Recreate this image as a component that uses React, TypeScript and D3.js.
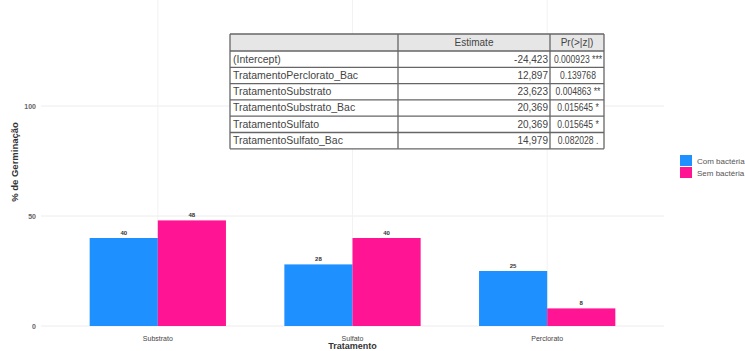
import React from "react";
import * as d3 from "d3";

// Germination (%) by treatment and bacteria presence
const categories = ["Substrato", "Sulfato", "Perclorato"];
const series = ["Com bactéria", "Sem bactéria"];
const comBacteria = [40, 28, 25];
const semBacteria = [48, 40, 8];
const yTicks = [0, 50, 100];
const colors = ["#1E90FF", "#FF1493"];

// GLM coefficient table
const termNames = [
  "(Intercept)",
  "TratamentoPerclorato_Bac",
  "TratamentoSubstrato",
  "TratamentoSubstrato_Bac",
  "TratamentoSulfato",
  "TratamentoSulfato_Bac",
];
const estimates = ["-24,423", "12,897", "23,623", "20,369", "20,369", "14,979"];
const pValues = [
  "0.000923 ***",
  "0.139768",
  "0.004863 **",
  "0.015645 *",
  "0.015645 *",
  "0.082028 .",
];

const W = 745;
const H = 351;
const panel = { left: 41, right: 664, top: 0, bottom: 326 };

export default function App() {
  const x = d3
    .scalePoint<string>()
    .domain(categories)
    .range([panel.left, panel.right])
    .padding(0.6);
  const step = x.step();
  const inner = d3
    .scaleBand<string>()
    .domain(series)
    .range([-0.35 * step, 0.35 * step])
    .padding(0);
  const y = d3.scaleLinear().domain([0, 100]).range([326, 106]);

  const values = [comBacteria, semBacteria];

  // table geometry
  const tX = [230, 398, 550, 604];
  const tTop = 34;
  const headerH = 17;
  const rowH = 16.3;
  const tBottom = tTop + headerH + rowH * termNames.length;
  const pCenter = (tX[2] + tX[3]) / 2 + 1;

  return (
    <svg
      width={W}
      height={H}
      style={{ position: "absolute", left: 0, top: 0, background: "#fff" }}
      fontFamily="'Liberation Sans', Arial, sans-serif"
    >
      {/* grid */}
      <g>
        {yTicks.map((t) => (
          <line
            key={t}
            x1={panel.left}
            x2={panel.right}
            y1={y(t)}
            y2={y(t)}
            stroke="#ececec"
            strokeWidth={1}
          />
        ))}
        {categories.map((c) => (
          <line
            key={c}
            x1={x(c)!}
            x2={x(c)!}
            y1={panel.top}
            y2={panel.bottom}
            stroke="#f2f2f2"
            strokeWidth={1}
          />
        ))}
      </g>

      {/* bars */}
      {series.map((s, si) => (
        <g key={s}>
          {categories.map((c, ci) => {
            const v = values[si][ci];
            const bx = x(c)! + inner(s)!;
            return (
              <g key={c}>
                <rect
                  x={bx}
                  y={y(v)}
                  width={inner.bandwidth()}
                  height={y(0) - y(v)}
                  fill={colors[si]}
                />
                <text
                  x={bx + inner.bandwidth() / 2}
                  y={y(v) - 3}
                  textAnchor="middle"
                  fontSize={6}
                  fontWeight="bold"
                  fill="#333"
                >
                  {v}
                </text>
              </g>
            );
          })}
        </g>
      ))}

      {/* y axis labels */}
      {yTicks.map((t) => (
        <text
          key={t}
          x={36}
          y={y(t) + 2.5}
          textAnchor="end"
          fontSize={7}
          fontWeight="bold"
          fill="#666"
        >
          {t}
        </text>
      ))}
      <text
        transform={`translate(18,162) rotate(-90)`}
        textAnchor="middle"
        fontSize={9.5}
        fontWeight="bold"
        fill="#333"
      >
        % de Germinação
      </text>

      {/* x axis labels */}
      {categories.map((c) => (
        <text
          key={c}
          x={x(c)!}
          y={341}
          textAnchor="middle"
          fontSize={7}
          fill="#444"
        >
          {c}
        </text>
      ))}
      <text
        x={x("Sulfato")!}
        y={349}
        textAnchor="middle"
        fontSize={9}
        fontWeight="bold"
        fill="#333"
      >
        Tratamento
      </text>

      {/* legend */}
      {series.map((s, i) => (
        <g key={s} transform={`translate(680,${155 + i * 12})`}>
          <rect width={12} height={11} fill={colors[i]} />
          <text x={17} y={8.5} fontSize={8} fill="#555">
            {s}
          </text>
        </g>
      ))}

      {/* coefficient table */}
      <g>
        <rect
          x={tX[0]}
          y={tTop}
          width={tX[3] - tX[0]}
          height={headerH}
          fill="#e6e6e6"
        />
        <rect
          x={tX[0]}
          y={tTop + headerH}
          width={tX[3] - tX[0]}
          height={tBottom - tTop - headerH}
          fill="#fff"
        />
        <text
          x={(tX[1] + tX[2]) / 2}
          y={tTop + 12}
          textAnchor="middle"
          fontSize={10}
          fill="#444"
        >
          Estimate
        </text>
        <text
          x={(tX[2] + tX[3]) / 2}
          y={tTop + 12}
          textAnchor="middle"
          fontSize={10}
          fill="#444"
        >
          {"Pr(>|z|)"}
        </text>
        {termNames.map((n, i) => {
          const ry = tTop + headerH + i * rowH;
          return (
            <g key={n}>
              <text x={tX[0] + 3} y={ry + 11.5} fontSize={10.5} fill="#444">
                {n}
              </text>
              <text
                x={tX[2] - 2}
                y={ry + 11.5}
                textAnchor="end"
                fontSize={10}
                fill="#444"
              >
                {estimates[i]}
              </text>
              <text
                transform={`translate(${pCenter},${ry + 11.5}) scale(0.86,1)`}
                textAnchor="middle"
                fontSize={10}
                fill="#444"
              >
                {pValues[i]}
              </text>
            </g>
          );
        })}
        {/* rules */}
        {d3.range(termNames.length + 2).map((i) => {
          const ly = i === 0 ? tTop : tTop + headerH + (i - 1) * rowH;
          return (
            <line
              key={"h" + i}
              x1={tX[0]}
              x2={tX[3]}
              y1={ly}
              y2={ly}
              stroke="#666"
              strokeWidth={1.3}
            />
          );
        })}
        {tX.map((vx, i) => (
          <line
            key={"v" + i}
            x1={vx}
            x2={vx}
            y1={tTop}
            y2={tBottom}
            stroke="#666"
            strokeWidth={1.3}
          />
        ))}
      </g>
    </svg>
  );
}
